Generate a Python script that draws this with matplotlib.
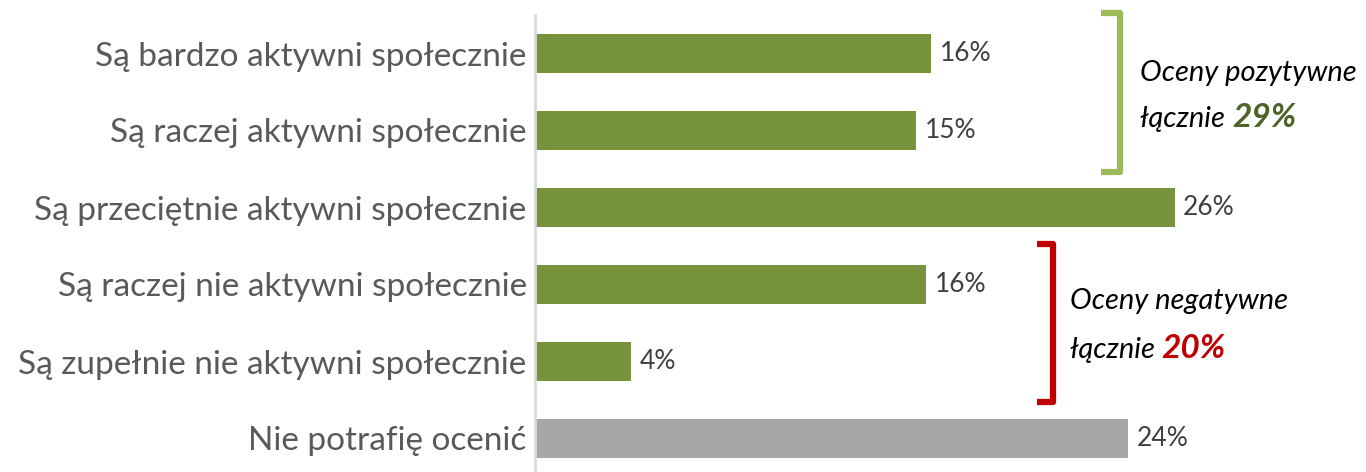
import matplotlib.pyplot as plt

categories = [
    "Są bardzo aktywni społecznie",
    "Są raczej aktywni społecznie",
    "Są przeciętnie aktywni społecznie",
    "Są raczej nie aktywni społecznie",
    "Są zupełnie nie aktywni społecznie",
    "Nie potrafię ocenić",
]
values = [16.1, 15.5, 26.0, 15.9, 3.9, 24.1]
value_labels = ["16%", "15%", "26%", "16%", "4%", "24%"]
positive_total = "29%"
negative_total = "20%"

GREEN = "#77933C"
GREY = "#A6A6A6"
FONT = "Lato"

fig = plt.figure(figsize=(13.66, 4.72), dpi=100)
ax = fig.add_axes([535 / 1366, -5 / 472, 831 / 1366, 462 / 472])

colors = [GREEN] * 5 + [GREY]
ypos = list(range(len(categories)))
ax.barh(ypos, values, height=0.5, color=colors)
ax.set_ylim(len(categories) - 0.5, -0.5)
ax.set_xlim(0, 831 / 24.6)

for y, v, lab in zip(ypos, values, value_labels):
    ax.text(v + 0.35, y, lab, va="center", ha="left", fontsize=19,
            color="#404040", family=FONT)

ax.set_yticks(ypos)
ax.set_yticklabels(categories, fontsize=24, color="#595959", family=FONT)
ax.tick_params(axis="y", length=0, pad=6)
ax.set_xticks([])
for s in ["top", "right", "bottom"]:
    ax.spines[s].set_visible(False)
ax.spines["left"].set_color("#D9D9D9")
ax.spines["left"].set_linewidth(2)


def bracket(x, x_tip, y0, y1, color):
    ax.plot([x_tip, x, x, x_tip], [y0, y0, y1, y1], color=color, lw=4.5,
            solid_joinstyle="round", solid_capstyle="butt", clip_on=False)


def total_note(x, y_top, y_bottom, head, total, color):
    kw = dict(family=FONT, style="italic", fontsize=21, color="black",
              ha="left", va="baseline", clip_on=False)
    ax.text(x, y_top, head, **kw)
    t = ax.text(x, y_bottom, "łącznie ", **kw)
    bb = t.get_window_extent(fig.canvas.get_renderer())
    x_data = ax.transData.inverted().transform((bb.x1, 0))[0]
    ax.text(x_data, y_bottom, total, family=FONT, style="italic",
            fontweight="bold", fontsize=24, color=color, ha="left",
            va="baseline", clip_on=False)


bracket(23.8, 23.0, -0.52, 1.54, "#9BBB59")
bracket(21.05, 20.4, 2.47, 4.53, "#C00000")

total_note(24.6, 0.36, 0.95, "Oceny pozytywne", positive_total, "#4F6228")
total_note(21.75, 3.32, 3.95, "Oceny negatywne", negative_total, "#C00000")

plt.savefig("out.png", dpi=100)
